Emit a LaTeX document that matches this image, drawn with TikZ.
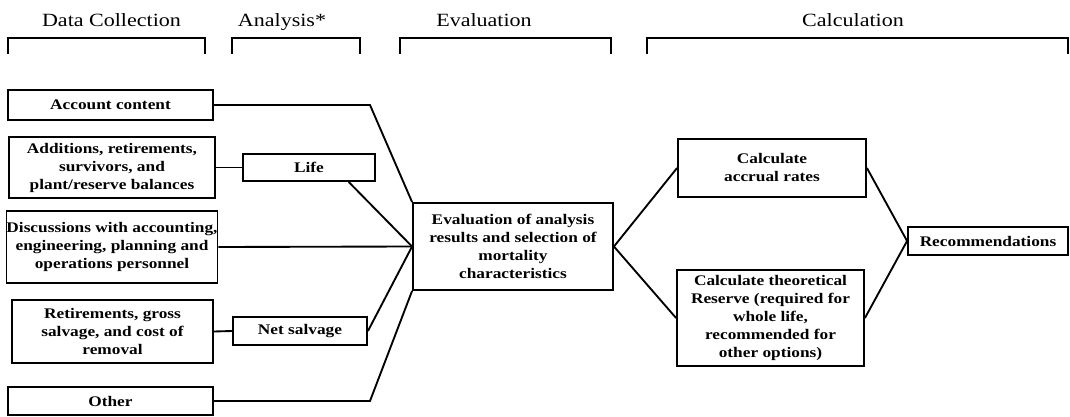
\documentclass[tikz,border=0pt]{standalone}
\usepackage{fontspec}
\setmainfont{Liberation Serif}[FakeStretch=1.18]
\usepackage{tikz}

\tikzset{
  box/.style={draw, line width=1.4pt, inner sep=0pt, align=center,
    font=\fontsize{11}{13.5}\selectfont\bfseries},
  head/.style={anchor=base, font=\fontsize{14}{17}\selectfont},
  link/.style={line width=1.4pt},
  brace/.style={line width=1.5pt}
}

\begin{document}
\begin{tikzpicture}[x=0.75pt, y=-0.75pt]
  \useasboundingbox (0,0) rectangle (1070,417);
  \node [head] (hcoll) at (111.5,27) {Data Collection};
  \node [head] (hana) at (282,27) {Analysis*};
  \node [head] (heval) at (484,27) {Evaluation};
  \node [head] (hcalc) at (853,27) {Calculation};
  \draw [brace] (8,54) -- (8,38) -- (205,38) -- (205,54);
  \draw [brace] (232,54) -- (232,38) -- (360,38) -- (360,54);
  \draw [brace] (400,54) -- (400,38) -- (611,38) -- (611,54);
  \draw [brace] (647,54) -- (647,38) -- (1068,38) -- (1068,54);

  \node [box, minimum width=205*0.75pt, minimum height=30*0.75pt] (acct) at (110.5,105) {Account content};
  \node [box, minimum width=206*0.75pt, minimum height=61*0.75pt] (addit) at (112,167.5) {Additions, retirements,\\survivors, and\\plant/reserve balances};
  \node [box, minimum width=132*0.75pt, minimum height=27*0.75pt] (life) at (309,167.5) {Life};
  \node [box, minimum width=206*0.75pt, minimum height=72*0.75pt] (disc) at (112,247) {Discussions with accounting,\\engineering, planning and\\operations personnel};
  \node [box, minimum width=201*0.75pt, minimum height=63*0.75pt] (retire) at (112.5,331.5) {Retirements, gross\\salvage, and cost of\\removal};
  \node [box, minimum width=134*0.75pt, minimum height=28*0.75pt] (net) at (300,331) {Net salvage};
  \node [box, minimum width=205*0.75pt, minimum height=28*0.75pt] (other) at (110.5,401) {Other};
  \node [box, minimum width=200*0.75pt, minimum height=87*0.75pt] (eval) at (513,246.5) {Evaluation of analysis\\results and selection of\\mortality\\characteristics};
  \node [box, minimum width=188*0.75pt, minimum height=58*0.75pt] (accr) at (772,168) {Calculate\\accrual rates};
  \node [box, minimum width=187*0.75pt, minimum height=96*0.75pt] (theo) at (770.5,318) {Calculate theoretical\\Reserve (required for\\whole life,\\recommended for\\other options)};
  \node [box, minimum width=160*0.75pt, minimum height=28*0.75pt] (rec) at (988,241) {Recommendations};

  \coordinate (bendtop) at (370,105);
  \coordinate (bendbot) at (370,401);
  \draw [link] (acct.east) -- (bendtop) -- (eval.north west);
  \draw [link] (addit.east) -- (life.west);
  \draw [link] (life.-20) -- (eval.west);
  \draw [link] (disc.east) -- (eval.west);
  \draw [link] (retire.east) -- (net.west);
  \draw [link] (net.east) -- (eval.west);
  \draw [link] (other.east) -- (bendbot) -- (eval.south west);
  \draw [link] (eval.east) -- (accr.west);
  \draw [link] (eval.east) -- (theo.west);
  \draw [link] (accr.east) -- (rec.west);
  \draw [link] (theo.east) -- (rec.west);
\end{tikzpicture}
\end{document}
